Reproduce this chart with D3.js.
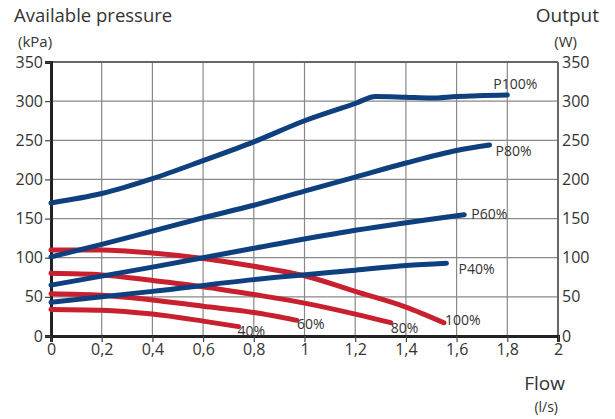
<!DOCTYPE html>
<html><head><meta charset="utf-8">
<script src="https://cdn.jsdelivr.net/npm/d3@7"></script>
<style>body{margin:0;background:#fff}svg{display:block}text{font-family:"Open Sans",sans-serif;fill:#333}</style>
</head><body><svg id="c" width="615" height="419"></svg>
<script>
const xTicks=[0,0.2,0.4,0.6,0.8,1.0,1.2,1.4,1.6,1.8,2];
const yTicks=[0,50,100,150,200,250,300,350];
const p100=[[0,170],[0.2,182],[0.4,201],[0.6,224],[0.8,248],[1.0,275],[1.2,297],[1.28,306],[1.4,305],[1.5,304],[1.6,306],[1.8,308]];
const p80=[[0,101],[0.2,117],[0.4,134],[0.6,151],[0.8,167],[1.0,185],[1.2,203],[1.4,221],[1.6,237],[1.73,244]];
const p60=[[0,65],[0.4,88],[0.8,112],[1.2,135],[1.63,155]];
const p40=[[0,43],[0.4,57],[0.8,72],[1.2,84],[1.4,90],[1.56,93]];
const r100=[[0,110],[0.2,110],[0.4,106],[0.6,99],[0.8,89],[1.0,77],[1.2,57],[1.4,37],[1.55,17]];
const r80=[[0,80],[0.2,78],[0.4,71],[0.6,63],[0.8,53],[1.0,42],[1.2,28],[1.34,17]];
const r60=[[0,54],[0.2,52],[0.4,46],[0.6,38],[0.8,30],[0.97,20]];
const r40=[[0,34],[0.2,33],[0.4,28],[0.6,19],[0.74,12]];
const blueSeries=[{d:p100,l:"P100%",dx:-14,dy:-11},{d:p80,l:"P80%",dx:6,dy:6},{d:p60,l:"P60%",dx:7,dy:-1},{d:p40,l:"P40%",dx:12,dy:6}];
const redSeries=[{d:r40,l:"40%",dx:-1,dy:4},{d:r60,l:"60%",dx:0,dy:4},{d:r80,l:"80%",dx:0,dy:5},{d:r100,l:"100%",dx:1,dy:-3}];

const svg=d3.select("#c");
const x=d3.scaleLinear().domain([0,2]).range([51,558]);
const y=d3.scaleLinear().domain([0,350]).range([336,62]);
const fmt=d=>String(d).replace(".",",");

svg.append("g").selectAll("line").data(xTicks).join("line")
 .attr("x1",d=>x(d)).attr("x2",d=>x(d)).attr("y1",y(0)).attr("y2",y(350)).attr("stroke","#888").attr("stroke-width",1.2);
svg.append("g").selectAll("line").data(yTicks).join("line")
 .attr("x1",x(0)).attr("x2",x(2)).attr("y1",d=>y(d)).attr("y2",d=>y(d)).attr("stroke","#888").attr("stroke-width",1.2);
svg.append("line").attr("x1",x(0)).attr("x2",x(2)).attr("y1",y(350)).attr("y2",y(350)).attr("stroke","#666").attr("stroke-width",2);
svg.append("line").attr("x1",x(2)).attr("x2",x(2)).attr("y1",y(0)).attr("y2",y(350)).attr("stroke","#666").attr("stroke-width",2);

const ax=svg.append("g").attr("transform",`translate(0,${y(0)})`).call(d3.axisBottom(x).tickValues(xTicks).tickFormat(fmt).tickSize(6).tickPadding(2));
const ay=svg.append("g").attr("transform",`translate(${x(0)},0)`).call(d3.axisLeft(y).tickValues(yTicks).tickSize(6).tickPadding(2));
const ay2=svg.append("g").attr("transform",`translate(${x(2)},0)`).call(d3.axisRight(y).tickValues(yTicks).tickSize(0).tickPadding(4));
[ax,ay,ay2].forEach(g=>{g.selectAll("text").style("font-size","16px").attr("fill","#333");g.selectAll(".tick line").attr("stroke","#444").attr("stroke-width",1.2);});
ay2.select(".domain").remove();
ax.select(".domain").attr("stroke","#222").attr("stroke-width",3);
ay.select(".domain").attr("stroke","#222").attr("stroke-width",3);

const line=d3.line().x(d=>x(d[0])).y(d=>y(d[1])).curve(d3.curveMonotoneX);
const plotSeries=(arr,color)=>{
 arr.forEach(s=>{
  svg.append("path").attr("d",line(s.d)).attr("fill","none").attr("stroke",color).attr("stroke-width",5).attr("stroke-linecap","round");
 });
};
plotSeries(redSeries,"#c8202f");
plotSeries(blueSeries,"#0e3f7e");
[...blueSeries,...redSeries].forEach(s=>{
 const last=s.d[s.d.length-1];
 svg.append("text").attr("x",x(last[0])+s.dx).attr("y",y(last[1])+s.dy).attr("dy","0.35em").style("font-size","14px").attr("fill","#444").text(s.l);
});

svg.append("text").attr("x",14).attr("y",22).style("font-size","18.5px").attr("fill","#111").text("Available pressure");
svg.append("text").attr("x",18).attr("y",47).style("font-size","15px").attr("fill","#333").text("(kPa)");
svg.append("text").attr("x",599).attr("y",22).attr("text-anchor","end").style("font-size","19px").attr("fill","#111").text("Output");
svg.append("text").attr("x",577).attr("y",47).attr("text-anchor","end").style("font-size","15px").attr("fill","#333").text("(W)");
svg.append("text").attr("x",565).attr("y",390).attr("text-anchor","end").style("font-size","19px").attr("fill","#111").text("Flow");
svg.append("text").attr("x",558).attr("y",412).attr("text-anchor","end").style("font-size","14px").attr("fill","#333").text("(l/s)");
</script></body></html>
